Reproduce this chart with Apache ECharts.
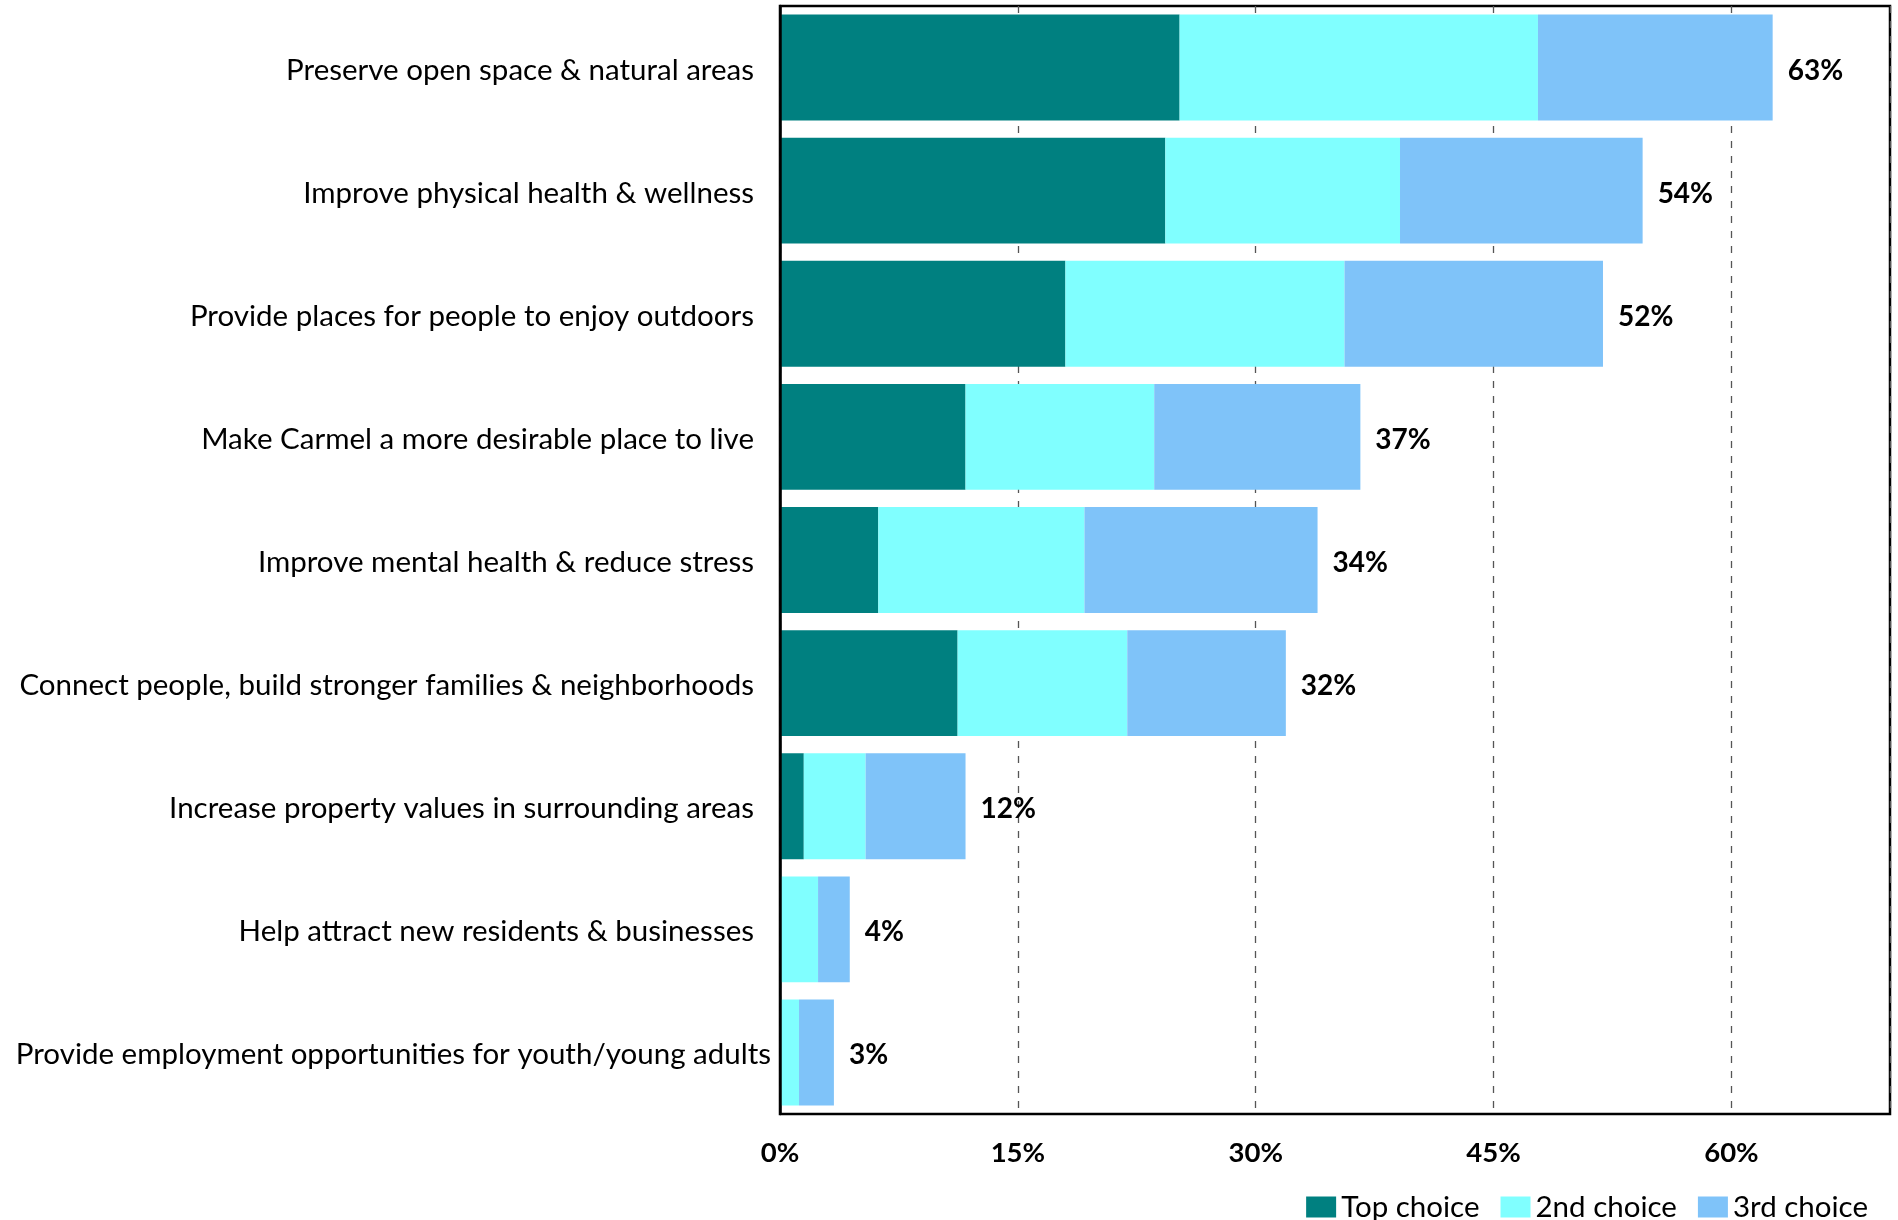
<!DOCTYPE html>
<html>
<head>
<meta charset="utf-8">
<title>Reasons for parks and open space</title>
<script src="https://cdn.jsdelivr.net/npm/echarts@6/dist/echarts.min.js"></script>
<style>
  html, body { margin: 0; padding: 0; background: #fff; }
  #chart { width: 1898px; height: 1220px; }
</style>
</head>
<body>
<div id="chart"></div>
<script>
// Survey reasons, top to bottom
const categories = [
  'Preserve open space & natural areas',
  'Improve physical health & wellness',
  'Provide places for people to enjoy outdoors',
  'Make Carmel a more desirable place to live',
  'Improve mental health & reduce stress',
  'Connect people, build stronger families & neighborhoods',
  'Increase property values in surrounding areas',
  'Help attract new residents & businesses',
  'Provide employment opportunities for youth/young adults'
];

// Share of respondents (%) choosing each reason as 1st, 2nd or 3rd choice
const topChoice    = [25.2, 24.3, 18.0, 11.7, 6.2, 11.2, 1.5, 0.0, 0.0];
const secondChoice = [22.6, 14.8, 17.6, 11.9, 13.0, 10.7, 3.9, 2.4, 1.2];
const thirdChoice  = [14.8, 15.3, 16.3, 13.0, 14.7, 10.0, 6.3, 2.0, 2.2];

const seriesNames = ['Top choice', '2nd choice', '3rd choice'];
const xTicks = [0, 15, 30, 45, 60];

const totals = categories.map((_, i) => topChoice[i] + secondChoice[i] + thirdChoice[i]);

const FONT = 'Lato';
const lastCategory = categories[categories.length - 1];

const chart = echarts.init(document.getElementById('chart'), null, { renderer: 'canvas' });

chart.setOption({
  animation: false,
  backgroundColor: '#fff',
  textStyle: { fontFamily: FONT },
  grid: {
    left: 780, top: 6, right: 8, bottom: 106,
    show: true, borderColor: '#000', borderWidth: 2.5, backgroundColor: 'transparent'
  },
  legend: {
    data: seriesNames,
    right: 25, top: 1187,
    icon: 'rect', itemWidth: 30, itemHeight: 21, itemGap: 21,
    textStyle: { fontFamily: FONT, fontSize: 29.5, color: '#000' }
  },
  xAxis: {
    type: 'value',
    min: 0, max: 70, interval: 15,
    axisLine: { show: false },
    axisTick: { show: false },
    axisLabel: {
      margin: 25,
      fontFamily: FONT, fontSize: 27.5, fontWeight: 'bold', color: '#000',
      formatter: v => (xTicks.includes(v) ? v + '%' : '')
    },
    splitLine: {
      show: true,
      lineStyle: { color: '#555', width: 1.3, type: [7, 8] }
    }
  },
  yAxis: {
    type: 'category',
    data: categories,
    inverse: true,
    z: 10,
    axisLine: { show: true, lineStyle: { color: '#000', width: 2.5 } },
    axisTick: { show: false },
    axisLabel: {
      margin: 9,
      formatter: v => (v === lastCategory ? '{b|' + v + '}' : '{a|' + v + '}'),
      rich: {
        a: { fontFamily: FONT, fontSize: 29.5, color: '#000', padding: [5, 17, 0, 0] },
        b: { fontFamily: FONT, fontSize: 29.5, color: '#000', padding: [5, 0, 0, 0] }
      }
    }
  },
  series: [
    {
      name: seriesNames[0], type: 'bar', stack: 'total',
      barCategoryGap: '14%',
      itemStyle: { color: '#008080' },
      data: topChoice
    },
    {
      name: seriesNames[1], type: 'bar', stack: 'total',
      barCategoryGap: '14%',
      itemStyle: { color: '#80FFFF' },
      data: secondChoice
    },
    {
      name: seriesNames[2], type: 'bar', stack: 'total',
      barCategoryGap: '14%',
      itemStyle: { color: '#7FC3F9' },
      data: thirdChoice,
      label: {
        show: true, position: 'right', distance: 15,
        offset: [0, 3],
        fontFamily: FONT, fontSize: 28, fontWeight: 'bold', color: '#000',
        formatter: p => Math.round(totals[p.dataIndex]) + '%'
      }
    }
  ]
});
</script>
</body>
</html>
